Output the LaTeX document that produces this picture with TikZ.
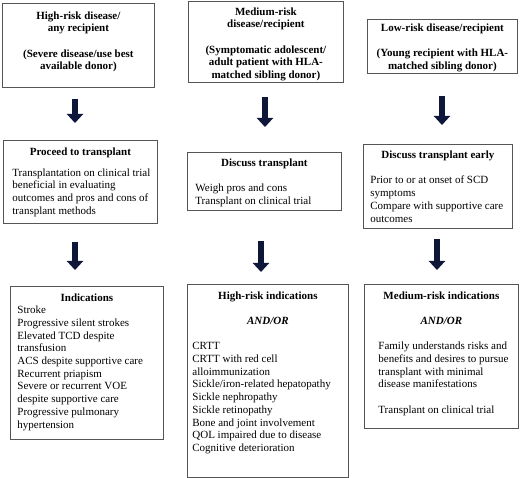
\documentclass[tikz,border=0pt]{standalone}
\usepackage{fontspec}
\setmainfont{Liberation Serif}
\usetikzlibrary{arrows.meta}
\definecolor{framegray}{RGB}{85, 85, 85}
\definecolor{arrownavy}{RGB}{14, 22, 58}
\newcommand{\panel}[3]{\parbox[c][#2][t]{#1}{#3}}
\newcommand{\head}[1]{{\centering\bfseries #1\par}}
\newcommand{\andor}{{\centering\bfseries\itshape AND/OR\par}}
\newcommand{\blank}{\vspace{12.7pt}}

\begin{document}
\begin{tikzpicture}[x=1pt,y=-1pt,
    box/.style={draw=framegray, line width=0.8pt, anchor=north west, inner xsep=3pt, inner ysep=0pt, font=\fontsize{11}{12.7}\selectfont},
    flow/.style={-{Triangle[width=16pt,length=9pt]}, line width=6.5pt, arrownavy}]
        %\draw[step=10,gray,very thin] (0,0) grid (520,478);
        \useasboundingbox (0,0) rectangle (520,478);
        \coordinate (colA) at (75,0);
        \coordinate (colB1) at (265,0);
        \coordinate (colB2) at (261,0);
        \coordinate (colC1) at (442,0);
        \coordinate (colC2) at (437,0);
        \node[box] (hr1) at (2,3) {\panel{146pt}{84pt}{\vspace*{8pt}\centering\bfseries High-risk disease/\\ any recipient\\[12.7pt] (Severe disease/use best\\ available donor)}};
        \node[box] (mr1) at (188,1) {\panel{149pt}{81pt}{\vspace*{6pt}\centering\bfseries Medium-risk\\ disease/recipient\\[12.7pt] (Symptomatic adolescent/\\ adult patient with HLA-\\ matched sibling donor)}};
        \node[box] (lr1) at (367,19) {\panel{144pt}{54pt}{\vspace*{4pt}\centering\bfseries Low-risk disease/recipient\\[12.7pt] (Young recipient with HLA-\\ matched sibling donor)}};
        \node[box] (hr2) at (3,140) {\panel{148pt}{83pt}{\vspace*{7pt}\head{Proceed to transplant}\vspace{8.3pt}\raggedright\leftskip=6pt Transplantation on clinical trial\\ beneficial in evaluating\\ outcomes and pros and cons of\\ transplant methods}};
        \node[box] (mr2) at (187,152) {\panel{148pt}{58pt}{\vspace*{6.5pt}\head{Discuss transplant}\blank\raggedright\leftskip=5pt Weigh pros and cons\\ Transplant on clinical trial}};
        \node[box] (lr2) at (363,144) {\panel{143pt}{84pt}{\vspace*{6.5pt}\head{Discuss transplant early}\blank\raggedright\leftskip=4pt Prior to or at onset of SCD\\ symptoms\\ Compare with supportive care\\ outcomes}};
        \node[box] (hr3) at (10,286) {\panel{147pt}{153pt}{\vspace*{7pt}\head{Indications}\raggedright\leftskip=4pt Stroke\\ Progressive silent strokes\\ Elevated TCD despite\\ transfusion\\ ACS despite supportive care\\ Recurrent priapism\\ Severe or recurrent VOE\\ despite supportive care\\ Progressive pulmonary\\ hypertension}};
        \node[box] (mr3) at (187,284) {\panel{155pt}{193pt}{\vspace*{7pt}\head{High-risk indications}\blank\andor\blank\raggedright\leftskip=2pt CRTT\\ CRTT with red cell\\ alloimmunization\\ Sickle/iron-related hepatopathy\\ Sickle nephropathy\\ Sickle retinopathy\\ Bone and joint involvement\\ QOL impaired due to disease\\ Cognitive deterioration}};
        \node[box] (lr3) at (364,284) {\panel{148pt}{144pt}{\vspace*{7pt}\head{Medium-risk indications}\blank\andor\blank\raggedright\leftskip=11pt Family understands risks and\\ benefits and desires to pursue\\ transplant with minimal\\ disease manifestations\\[12.7pt] Transplant on clinical trial}};
        \draw[flow,shorten <=11pt,shorten >=17pt] (hr1.south -| colA) -- (hr2.north -| colA);
        \draw[flow,shorten <=14pt,shorten >=25pt] (mr1.south -| colB1) -- (mr2.north -| colB1);
        \draw[flow,shorten <=22pt,shorten >=19pt] (lr1.south -| colC1) -- (lr2.north -| colC1);
        \draw[flow,shorten <=18pt,shorten >=16pt] (hr2.south -| colA) -- (hr3.north -| colA);
        \draw[flow,shorten <=30pt,shorten >=12pt] (mr2.south -| colB2) -- (mr3.north -| colB2);
        \draw[flow,shorten <=10pt,shorten >=14pt] (lr2.south -| colC2) -- (lr3.north -| colC2);
      \end{tikzpicture}
\end{document}
